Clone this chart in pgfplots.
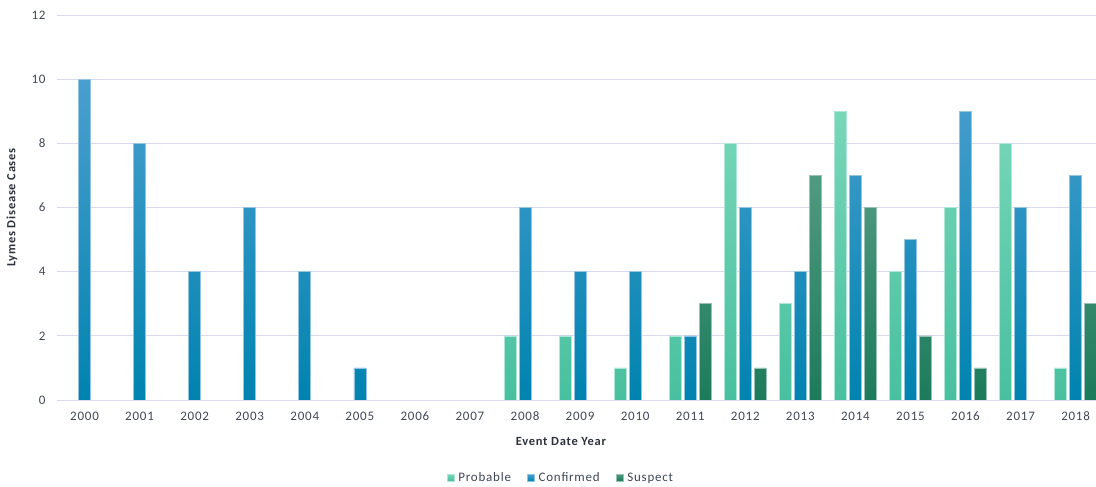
\documentclass[border=0pt]{standalone}
\usepackage{fontspec}
\setmainfont{Carlito}[LetterSpace=6]
\usepackage{pgfplots}
\pgfplotsset{compat=1.18}
\definecolor{probTop}{HTML}{78D7B9}
\definecolor{probMid}{HTML}{56D0AF}
\definecolor{probBot}{HTML}{48C09F}
\definecolor{confTop}{HTML}{4A9FCF}
\definecolor{confMid}{HTML}{0494C8}
\definecolor{confBot}{HTML}{0083AF}
\definecolor{suspTop}{HTML}{519A82}
\definecolor{suspMid}{HTML}{2A8D6C}
\definecolor{suspBot}{HTML}{1C7B5B}
\definecolor{gridc}{HTML}{D9DAEE}
\definecolor{txt}{HTML}{3F4756}
\begin{document}
\begin{tikzpicture}[x=1pt,y=1pt]
\begin{axis}[
  name=ax, at={(0,0)}, anchor=south west,
  scale only axis, width=1039pt, height=385pt,
  xmin=-0.5, xmax=18.37, ymin=0, ymax=12,
  ytick={0,2,...,12},
  xtick={0,...,18},
  xticklabels={2000,2001,2002,2003,2004,2005,2006,2007,2008,2009,2010,2011,2012,2013,2014,2015,2016,2017,2018},
  /pgf/number format/assume math mode=true,
  ymajorgrids, grid style={color=gridc, line width=0.9pt},
  axis x line*=bottom, axis y line*=left,
  y axis line style={draw=none},
  x axis line style={color=gridc, line width=0.9pt, -},
  major tick length=0pt,
  tick label style={font=\fontsize{13}{15}\selectfont, text=txt},
  yticklabel style={xshift=-8pt},
  xticklabel style={yshift=-8pt, anchor=north, text height=9pt, text depth=0pt},
  ylabel={Lymes Disease Cases},
  xlabel={Event Date Year},
  every axis y label/.style={at={(axis description cs:-0.0433,0.5)}, rotate=90, anchor=center,
    font=\bfseries\fontsize{12.5}{15}\selectfont, text=txt!70!black},
  every axis x label/.style={at={(axis description cs:0.485,-0.109)}, anchor=center,
    font=\bfseries\fontsize{12.5}{15}\selectfont, text=txt!70!black},
  ybar=3pt, bar width=12pt,
  clip=true,
  legend columns=3,
  legend style={at={(axis description cs:0.485,-0.2026)}, anchor=center, draw=none,
    font=\fontsize{13}{15}\selectfont, text=txt,
    /tikz/every odd column/.append style={column sep=2pt},
    /tikz/every even column/.append style={column sep=14pt}},
  legend image code/.code={\fill[#1] (0pt,-3pt) rectangle (7pt,4pt);},
]
\addplot[top color=probTop, middle color=probMid, bottom color=probBot, draw=probTop!60!white, line width=0.6pt]
  coordinates {(8,2) (9,2) (10,1) (11,2) (12,8) (13,3) (14,9) (15,4) (16,6) (17,8) (18,1)};
\addplot[top color=confTop, middle color=confMid, bottom color=confBot, draw=confTop!60!white, line width=0.6pt]
  coordinates {(0,10) (1,8) (2,4) (3,6) (4,4) (5,1) (8,6) (9,4) (10,4) (11,2) (12,6) (13,4) (14,7) (15,5) (16,9) (17,6) (18,7)};
\addplot[top color=suspTop, middle color=suspMid, bottom color=suspBot, draw=suspTop!60!white, line width=0.6pt]
  coordinates {(11,3) (12,1) (13,7) (14,6) (15,2) (16,1) (18,3)};
\legend{Probable, Confirmed, Suspect}
\end{axis}
\pgfresetboundingbox
\path (-57,-87) rectangle (1039,400);
\end{tikzpicture}
\end{document}
